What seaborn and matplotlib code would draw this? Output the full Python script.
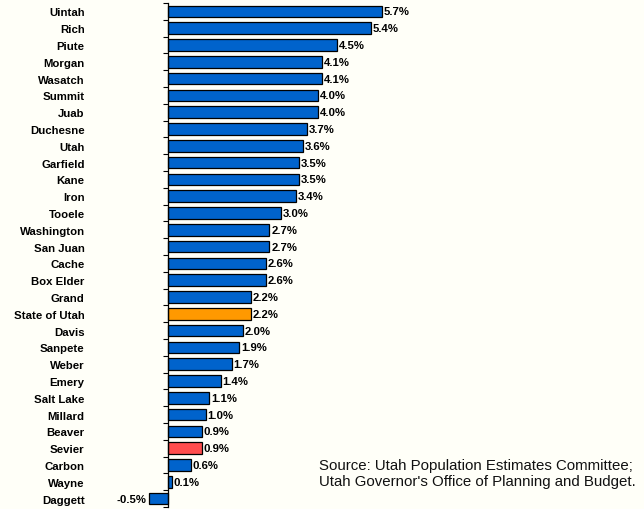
import pandas as pd
import matplotlib
matplotlib.use('Agg')
import matplotlib.pyplot as plt
import seaborn as sns

# data
counties = ['Uintah', 'Rich', 'Piute', 'Morgan', 'Wasatch', 'Summit', 'Juab',
            'Duchesne', 'Utah', 'Garfield', 'Kane', 'Iron', 'Tooele', 'Washington',
            'San Juan', 'Cache', 'Box Elder', 'Grand', 'State of Utah', 'Davis',
            'Sanpete', 'Weber', 'Emery', 'Salt Lake', 'Millard', 'Beaver', 'Sevier',
            'Carbon', 'Wayne', 'Daggett']
growth = [5.7, 5.4, 4.5, 4.1, 4.1, 4.0, 4.0, 3.7, 3.6, 3.5, 3.5, 3.4, 3.0, 2.7,
          2.7, 2.6, 2.6, 2.2, 2.2, 2.0, 1.9, 1.7, 1.4, 1.1, 1.0, 0.9, 0.9, 0.6,
          0.1, -0.5]
highlight = {'State of Utah': '#ff9900', 'Sevier': '#ff4d4d'}
source_note = ("Source: Utah Population Estimates Committee;\n"
               "Utah Governor's Office of Planning and Budget.")

df = pd.DataFrame({'county': counties, 'growth': growth})
pal = {c: highlight.get(c, '#0063cc') for c in counties}

bg = '#fffff8'
plt.rcParams['font.family'] = ['Liberation Sans', 'DejaVu Sans']
fig = plt.figure(figsize=(6.44, 5.10), dpi=100, facecolor=bg)
n = len(counties)
# axes placed so zero sits at x=168px, 37.5 px per percent
left_px, right_px = 130, 640
ax = fig.add_axes([left_px / 644, 2 / 510, (right_px - left_px) / 644, 504 / 510])
ax.set_facecolor(bg)

sns.barplot(data=df, y='county', x='growth', hue='county', palette=pal,
            legend=False, orient='h', width=0.68, edgecolor='black',
            linewidth=0.9, saturation=1, ax=ax)

ax.set_xlim((left_px - 168) / 37.5, (right_px - 168) / 37.5)
ax.set_ylim(n - 0.5, -0.5)

for s in ['top', 'right', 'bottom']:
    ax.spines[s].set_visible(False)
ax.spines['left'].set_position(('data', 0))
ax.spines['left'].set_linewidth(0.9)
ax.set_xticks([])
ax.set_yticks(range(n))
ax.set_yticklabels(counties, fontsize=8.2, fontweight='bold')
ax.tick_params(axis='y', which='major', length=0, pad=60)
ax.set_yticks([i - 0.5 for i in range(n + 1)], minor=True)
ax.tick_params(axis='y', which='minor', length=3.5, width=0.8, direction='out')
ax.set_xlabel('')
ax.set_ylabel('')

for i, v in enumerate(growth):
    if v >= 0:
        ax.text(v + 0.05, i, f'{v:.1f}%', va='center', ha='left',
                fontsize=8.2, fontweight='bold')
    else:
        ax.text(v - 0.07, i, f'{v:.1f}%', va='center', ha='right',
                fontsize=8.2, fontweight='bold')

fig.text(319 / 644, 1 - 474 / 510, source_note, fontsize=10.8, va='center',
         ha='left', linespacing=1.12, color='#111111')

fig.savefig('out.png', dpi=100, facecolor=bg)
